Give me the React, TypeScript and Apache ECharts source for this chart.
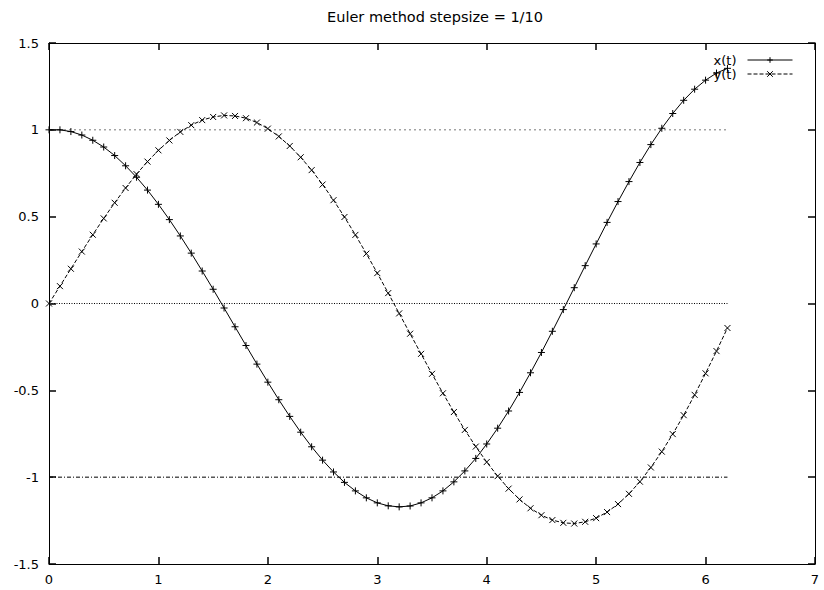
import React, { useEffect, useRef } from "react";
import * as echarts from "echarts";

// time steps (stepsize 1/10)
const tValues = [
  0, 0.1, 0.2, 0.3, 0.4, 0.5, 0.6, 0.7, 0.8, 0.9,
  1, 1.1, 1.2, 1.3, 1.4, 1.5, 1.6, 1.7, 1.8, 1.9,
  2, 2.1, 2.2, 2.3, 2.4, 2.5, 2.6, 2.7, 2.8, 2.9,
  3, 3.1, 3.2, 3.3, 3.4, 3.5, 3.6, 3.7, 3.8, 3.9,
  4, 4.1, 4.2, 4.3, 4.4, 4.5, 4.6, 4.7, 4.8, 4.9,
  5, 5.1, 5.2, 5.3, 5.4, 5.5, 5.6, 5.7, 5.8, 5.9,
  6, 6.1, 6.2,
];

// x(t)
const xValues = [
  1.0, 1.0, 0.99, 0.97, 0.94, 0.901, 0.852, 0.793, 0.727, 0.653,
  0.571, 0.483, 0.389, 0.29, 0.187, 0.082, -0.026, -0.134, -0.242, -0.349,
  -0.453, -0.554, -0.65, -0.741, -0.825, -0.902, -0.97, -1.03, -1.079, -1.119,
  -1.148, -1.165, -1.171, -1.166, -1.148, -1.119, -1.079, -1.027, -0.964, -0.892,
  -0.809, -0.718, -0.619, -0.512, -0.399, -0.282, -0.16, -0.035, 0.091, 0.218,
  0.343, 0.467, 0.587, 0.702, 0.812, 0.915, 1.009, 1.094, 1.17, 1.234,
  1.286, 1.327, 1.354,
];

// y(t)
const yValues = [
  0.0, 0.1, 0.2, 0.299, 0.396, 0.49, 0.58, 0.665, 0.745, 0.817,
  0.882, 0.939, 0.988, 1.027, 1.056, 1.074, 1.083, 1.08, 1.067, 1.042,
  1.007, 0.962, 0.907, 0.842, 0.768, 0.685, 0.595, 0.498, 0.395, 0.287,
  0.175, 0.06, -0.057, -0.174, -0.29, -0.405, -0.517, -0.625, -0.728, -0.824,
  -0.913, -0.994, -1.066, -1.128, -1.179, -1.219, -1.247, -1.263, -1.267, -1.257,
  -1.236, -1.201, -1.155, -1.096, -1.026, -0.944, -0.853, -0.752, -0.643, -0.526,
  -0.402, -0.274, -0.141,
];

// reference levels
const refT = [0, 6.2];
const refUpper = [1, 1];
const refZero = [0, 0];
const refLower = [-1, -1];

const seriesNames = ["x(t)", "y(t)"];
const titleText = "Euler method stepsize = 1/10";

const FONT = "DejaVu Sans";

const plusSymbol = "path://M0,5L10,5M5,0L5,10";
const crossSymbol = "path://M0,0L10,10M10,0L0,10";

function pairs(xs: number[], ys: number[]) {
  return xs.map((x, i) => [x, ys[i]]);
}

export default function App() {
  const ref = useRef<HTMLDivElement>(null);

  useEffect(() => {
    if (!ref.current) return;
    const chart = echarts.init(ref.current, null, { renderer: "svg" });

    const axisCommon = {
      axisLine: { show: true, onZero: false, lineStyle: { color: "#000", width: 1 } },
      axisTick: { show: true, inside: true, length: 7, lineStyle: { color: "#000", width: 1.5 } },
      splitLine: { show: false },
    };

    chart.setOption({
      animation: false,
      backgroundColor: "#fff",
      graphic: [
        {
          type: "text",
          x: 435,
          y: 17,
          style: {
            text: titleText,
            fill: "#000",
            font: `14.5px "${FONT}"`,
            textAlign: "center",
            textVerticalAlign: "middle",
          },
        },
      ],
      legend: {
        data: seriesNames,
        orient: "vertical",
        right: 31,
        top: 53,
        padding: 0,
        align: "right",
        itemWidth: 45,
        itemHeight: 7,
        itemGap: 0,
        lineStyle: { width: 1 },
        itemStyle: { borderWidth: 1 },
        textStyle: {
          fontFamily: FONT,
          fontSize: 13,
          color: "#000",
          lineHeight: 14,
          padding: [0, 6, 0, 0],
        },
        inactiveColor: "#000",
      },
      grid: { left: 49, right: 9, top: 43, bottom: 26, containLabel: false },
      xAxis: [
        {
          type: "value",
          position: "bottom",
          min: 0,
          max: 7,
          interval: 1,
          ...axisCommon,
          axisLabel: { color: "#000", fontFamily: FONT, fontSize: 13, margin: 9 },
        },
        {
          type: "value",
          position: "top",
          min: 0,
          max: 7,
          interval: 1,
          ...axisCommon,
          axisLabel: { show: false },
        },
      ],
      yAxis: [
        {
          type: "value",
          position: "left",
          min: -1.5,
          max: 1.5,
          interval: 0.5,
          ...axisCommon,
          axisLabel: { color: "#000", fontFamily: FONT, fontSize: 13, margin: 10 },
        },
        {
          type: "value",
          position: "right",
          min: -1.5,
          max: 1.5,
          interval: 0.5,
          ...axisCommon,
          axisLabel: { show: false },
        },
      ],
      series: [
        {
          name: "ref1",
          type: "line",
          data: pairs(refT, refUpper),
          symbol: "none",
          lineStyle: { color: "#777", width: 1, type: [2, 3] },
          silent: true,
          z: 1,
        },
        {
          name: "ref0",
          type: "line",
          data: pairs(refT, refZero),
          symbol: "none",
          lineStyle: { color: "#000", width: 1, type: [1, 1.5] },
          silent: true,
          z: 1,
        },
        {
          name: "refm1",
          type: "line",
          data: pairs(refT, refLower),
          symbol: "none",
          lineStyle: { color: "#000", width: 1, type: [4, 2, 1, 2] },
          silent: true,
          z: 1,
        },
        {
          name: seriesNames[0],
          type: "line",
          data: pairs(tValues, xValues),
          symbol: plusSymbol,
          symbolSize: 7,
          showAllSymbol: true,
          color: "#000",
          lineStyle: { color: "#000", width: 1, type: "solid" },
          itemStyle: { color: "#000", borderColor: "#000", borderWidth: 1 },
          z: 3,
        },
        {
          name: seriesNames[1],
          type: "line",
          data: pairs(tValues, yValues),
          symbol: crossSymbol,
          symbolSize: 6,
          showAllSymbol: true,
          color: "#000",
          lineStyle: { color: "#000", width: 1, type: [4, 2] },
          itemStyle: { color: "#000", borderColor: "#000", borderWidth: 1 },
          z: 3,
        },
      ],
    });

    return () => {
      chart.dispose();
    };
  }, []);

  return (
    <div
      ref={ref}
      style={{ position: "fixed", left: 0, top: 0, width: 824, height: 590 }}
    />
  );
}
